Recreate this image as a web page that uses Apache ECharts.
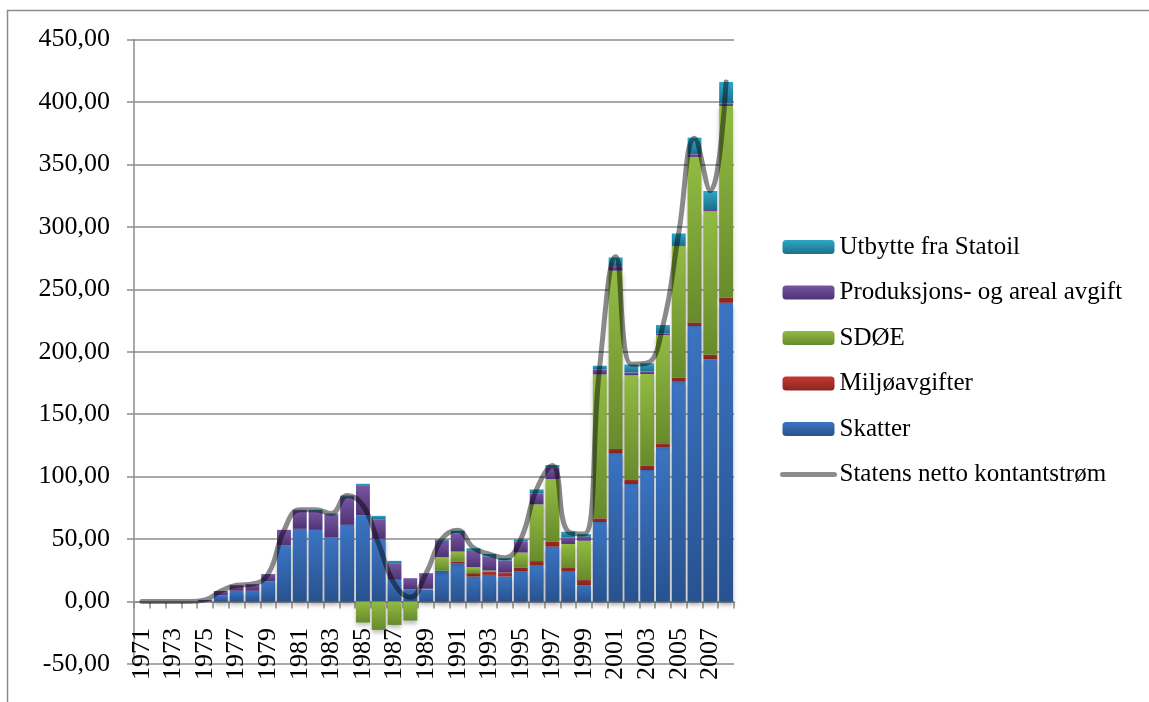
<!DOCTYPE html>
<html>
<head>
<meta charset="utf-8">
<script src="https://cdn.jsdelivr.net/npm/echarts@6/dist/echarts.min.js"></script>
<style>
	html, body { margin: 0; padding: 0; background: #fff; }
	#chart { width: 1149px; height: 702px; }
</style>
</head>
<body>
<div id="chart"></div>
<script>
// years on the category axis
const years = [
	"1971", "1972", "1973", "1974", "1975", "1976", "1977", "1978", "1979", "1980",
	"1981", "1982", "1983", "1984", "1985", "1986", "1987", "1988", "1989", "1990",
	"1991", "1992", "1993", "1994", "1995", "1996", "1997", "1998", "1999", "2000",
	"2001", "2002", "2003", "2004", "2005", "2006", "2007", "2008"
];
// values (mrd kr)
const skatter = [
	0, 0, 0, 0, 0.3, 4.8, 8.6, 8.6, 16, 44.8,
	58.2, 57.4, 51.2, 61.4, 68.9, 50.2, 17.4, 9.9, 9.4, 24.8,
	30.4, 20, 21.4, 20, 24, 28.7, 43.9, 23.9, 13.2, 63.7,
	118.9, 94.1, 105.3, 123.2, 176, 220.6, 194, 239.2
];
const miljo = [
	0, 0, 0, 0, 0, 0, 0, 0, 0, 0,
	0, 0, 0, 0, 0, 0, 0, 0, 0, 0,
	1.6, 2.7, 2.4, 3.2, 3.2, 3.7, 4, 3.5, 4, 2.9,
	3.2, 3.2, 3.5, 2.9, 3.2, 2.9, 3.5, 4
];
const sdoe = [
	0, 0, 0, 0, 0, 0, 0, 0, 0, 0,
	0, 0, 0, 0, -16.8, -22.7, -18.7, -15.2, 0.8, 10.7,
	8, 4.8, 1, 0, 12, 45.4, 50.2, 18.7, 31.5, 115.3,
	142.8, 84, 73.4, 87.3, 105.4, 132.5, 115, 153.6
];
const prodAvgift = [
	0, 0, 0, 0, 1.0, 3.7, 4.5, 5.3, 6, 12.6,
	15, 15, 18.4, 22.5, 23.8, 15.7, 13.3, 8.8, 12.5, 13.1,
	14.7, 13.1, 11.2, 9.6, 8.8, 8.8, 9.3, 5.3, 3.2, 4,
	3.7, 2.1, 1.9, 1.3, 0.8, 2.1, 1, 1.9
];
const utbytte = [
	0, 0, 0, 0, 0, 0, 0, 0, 0, 0,
	0.3, 1, 1, 1, 1.6, 2.7, 1.9, 0, 0, 1.3,
	2.1, 2.1, 2.1, 1.9, 1.9, 3.2, 1.9, 4.5, 2.1, 2.9,
	6.9, 6.4, 6.7, 6.7, 9.3, 13.3, 15.2, 17.3
];
const nettoKontant = [
	0, 0, 0, 0, 1.3, 8.5, 13, 14, 22, 57,
	73.5, 73.5, 70.5, 85, 77, 46, 14, 3.5, 22.7, 50,
	57, 43, 38, 35, 50, 90, 109, 56, 54, 189,
	276, 190, 191, 221, 295, 371, 329, 416
];

const FONT = "Liberation Serif, Times New Roman, serif";
const GRID_GRAY = "#8c8c8c";

function grad(top, bottom) {
	return new echarts.graphic.LinearGradient(0, 0, 0, 1, [
		{ offset: 0, color: top },
		{ offset: 1, color: bottom }
	]);
}

function barSeries(name, data, top, bottom, extra) {
	return Object.assign({
		name: name,
		type: "bar",
		stack: "total",
		barCategoryGap: "12%",
		data: data,
		itemStyle: { color: grad(top, bottom) }
	}, extra || {});
}

const chart = echarts.init(document.getElementById("chart"));
const option = {
	animation: false,
	backgroundColor: "#fff",
	textStyle: { fontFamily: FONT },
	graphic: [
		{
			type: "rect",
			shape: { x: 7.5, y: 10.5, width: 1200, height: 800 },
			style: { fill: "none", stroke: GRID_GRAY, lineWidth: 1.5 },
			silent: true
		}
	],
	grid: { left: 134, right: 415, top: 39.5, bottom: 38, outerBoundsMode: "none" },
	legend: {
		orient: "vertical",
		left: 775,
		top: 229,
		itemWidth: 52,
		itemHeight: 14,
		itemGap: 19.5,
		textStyle: { fontFamily: FONT, fontSize: 25, color: "#000", lineHeight: 26 },
		data: [
			"Utbytte fra Statoil",
			"Produksjons- og areal avgift",
			"SDØE",
			"Miljøavgifter",
			"Skatter",
			{
				name: "Statens netto kontantstrøm",
				itemStyle: { opacity: 0 },
				lineStyle: { color: "#8c8c8c", width: 5, cap: "round" }
			}
		]
	},
	xAxis: {
		type: "category",
		data: years,
		axisLine: { onZero: true, lineStyle: { color: GRID_GRAY, width: 1.5 } },
		axisTick: { show: true, interval: 0, length: 7, lineStyle: { color: GRID_GRAY, width: 1.5 } },
		axisLabel: {
			interval: 1,
			rotate: 90,
			margin: -36,
			fontFamily: FONT,
			fontSize: 26,
			color: "#000"
		},
		splitLine: { show: false }
	},
	yAxis: {
		type: "value",
		min: -50,
		max: 450,
		interval: 50,
		axisLine: { show: true, lineStyle: { color: GRID_GRAY, width: 1.5 } },
		axisTick: { show: true, length: 7, lineStyle: { color: GRID_GRAY, width: 1.5 } },
		axisLabel: {
			margin: 24,
			fontFamily: FONT,
			fontSize: 26,
			color: "#000",
			formatter: function (v) { return v.toFixed(2).replace(".", ","); }
		},
		splitLine: { lineStyle: { color: GRID_GRAY, width: 1.5 } }
	},
	series: [
		barSeries("Skatter", skatter, "#3b74c2", "#28528f", {
			itemStyle: {
				color: grad("#3b74c2", "#28528f"),
				shadowColor: "rgba(0,0,0,0.3)",
				shadowBlur: 4,
				shadowOffsetY: 3
			}
		}),
		barSeries("Miljøavgifter", miljo, "#c4392f", "#8e2421"),
		barSeries("SDØE", sdoe, "#92bb43", "#678a2c", {
			itemStyle: {
				color: grad("#92bb43", "#678a2c"),
				shadowColor: "rgba(0,0,0,0.25)",
				shadowBlur: 4,
				shadowOffsetY: 3
			}
		}),
		barSeries("Produksjons- og areal avgift", prodAvgift, "#7755a3", "#4e3373"),
		barSeries("Utbytte fra Statoil", utbytte, "#2fa6c6", "#1c6f8b"),
		{
			name: "Statens netto kontantstrøm",
			type: "line",
			data: nettoKontant,
			smooth: 0.45,
			symbol: "none",
			z: 5,
			itemStyle: { color: "#8a8a8a" },
			lineStyle: { color: "rgba(0,0,0,0.46)", width: 5, cap: "round", join: "round" }
		}
	]
};
chart.setOption(option);
</script>
</body>
</html>
